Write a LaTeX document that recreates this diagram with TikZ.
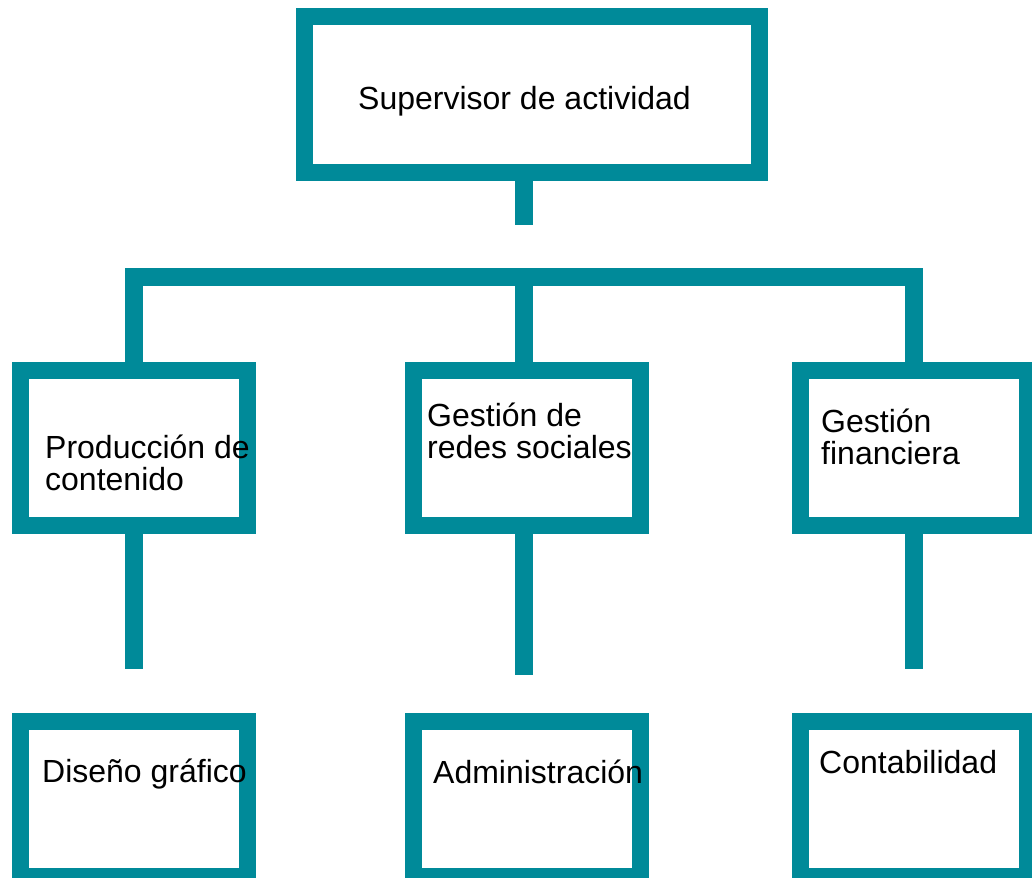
\documentclass[tikz,border=0pt]{standalone}
\usepackage{fontspec}
\setmainfont{Liberation Sans}
\definecolor{teal1}{RGB}{0,138,153}
\begin{document}
\begin{tikzpicture}[x=1pt,y=-1pt,
  box/.style={draw=teal1,line width=17pt,rectangle,inner sep=0pt,fill=white},
  conn/.style={draw=teal1,line width=18pt},
  lbl/.style={anchor=base west,inner sep=0pt,font=\fontsize{32}{31}\selectfont}]
\useasboundingbox (0,0) rectangle (1032,877);
\clip (0,0) rectangle (1032,877);
% boxes (centre lines)
\node[box,minimum width=455pt,minimum height=156pt] (top) at (532,94.5) {};
\node[box,minimum width=227pt,minimum height=155pt] (l2) at (134,448) {};
\node[box,minimum width=227pt,minimum height=155pt] (m2) at (527,448) {};
\node[box,minimum width=227pt,minimum height=155pt] (r2) at (914,448) {};
\node[box,minimum width=227pt,minimum height=155pt] (l3) at (134,799) {};
\node[box,minimum width=227pt,minimum height=155pt] (m3) at (527,799) {};
\node[box,minimum width=227pt,minimum height=155pt] (r3) at (914,799) {};
% connectors
\coordinate (stem) at (524,225);
\coordinate (bar) at (524,277);
\coordinate (lb) at (134,669);
\coordinate (mb) at (524,675);
\coordinate (rb) at (914,669);
\draw[conn] (top.south -| stem) -- (stem);
\draw[conn] (l2.north) |- (bar) -| (r2.north);
\draw[conn] (bar) -- (m2.north -| bar);
\draw[conn] (l2.south) -- (lb);
\draw[conn] (m2.south -| mb) -- (mb);
\draw[conn] (r2.south) -- (rb);
% labels
\node[lbl] (ttop) at (358,110) {Supervisor de actividad};
\node[lbl] (tl2) at (45,458) {\begin{tabular}[t]{@{}l@{}}Producción de\\contenido\end{tabular}};
\node[lbl] (tm2) at (427,426) {\begin{tabular}[t]{@{}l@{}}Gestión de\\redes sociales\end{tabular}};
\node[lbl] (tr2) at (821,432) {\begin{tabular}[t]{@{}l@{}}Gestión\\financiera\end{tabular}};
\node[lbl] (tl3) at (42,782) {Diseño gráfico};
\node[lbl] (tm3) at (433,783) {Administración};
\node[lbl] (tr3) at (819,773) {Contabilidad};
\end{tikzpicture}
\end{document}
